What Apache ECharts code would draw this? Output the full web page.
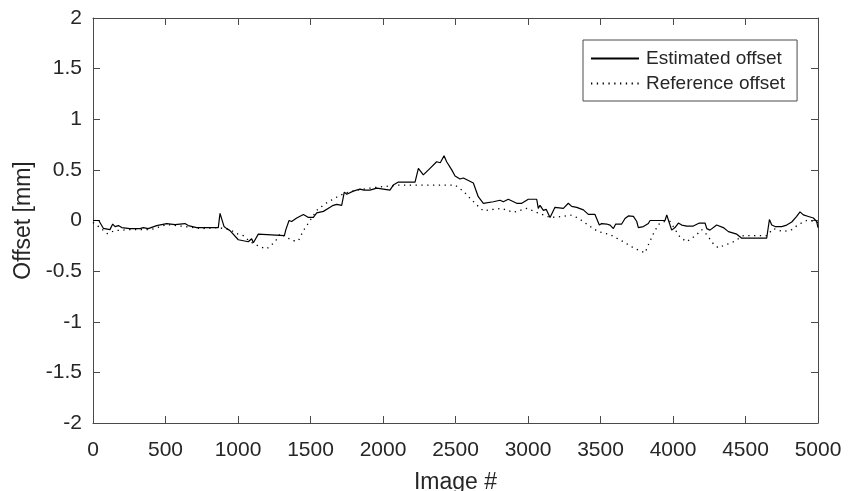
<!DOCTYPE html>
<html>
<head>
<meta charset="utf-8">
<script src="https://cdn.jsdelivr.net/npm/echarts@6/dist/echarts.min.js"></script>
<style>
    html, body { margin: 0; padding: 0; background: #fff; }
    #chart { width: 858px; height: 491px; }
</style>
</head>
<body>
<div id="chart"></div>
<script>
    // estimated offset (solid line), image # and value in mm
    let estX = [0, 40, 71, 117, 136, 152, 175, 198, 255, 324, 347, 381, 439, 508, 566, 634, 657, 715, 864, 876, 888, 904, 922, 945,
        1002, 1037, 1071, 1094, 1106, 1140, 1152, 1320, 1330, 1352, 1370, 1405, 1451, 1463, 1486, 1520, 1543, 1555, 1589, 1635,
        1657, 1681, 1715, 1733, 1750, 1795, 1841, 1870, 1910, 1957, 2002, 2048, 2071, 2106, 2221, 2244, 2278, 2324, 2370, 2395,
        2421, 2439, 2474, 2497, 2531, 2554, 2623, 2657, 2692, 2761, 2807, 2830, 2864, 2922, 2957, 3002, 3060, 3071, 3083, 3106,
        3125, 3152, 3186, 3244, 3278, 3301, 3336, 3382, 3392, 3416, 3462, 3492, 3508, 3543, 3566, 3589, 3605, 3646, 3669, 3692,
        3727, 3750, 3761, 3796, 3830, 3842, 3945, 3957, 3968, 3991, 4014, 4037, 4060, 4095, 4140, 4182, 4221, 4233, 4255, 4301,
        4347, 4382, 4440, 4474, 4646, 4665, 4681, 4704, 4750, 4784, 4819, 4853, 4876, 4899, 4934, 4968, 4991, 5000];
    let estY = [0, 0, -0.077, -0.09, -0.035, -0.06, -0.05, -0.07, -0.08, -0.08, -0.07, -0.08, -0.05, -0.03, -0.04, -0.03, -0.05, -0.07, -0.07, 0.07, 0.065, -0.06, -0.08, -0.1,
        -0.19, -0.2, -0.21, -0.18, -0.22, -0.135, -0.15, -0.15, -0.09, 0.0, -0.01, 0.025, 0.06, 0.075, 0.03, 0.03, 0.075, 0.06, 0.09, 0.13,
        0.15, 0.16, 0.15, 0.28, 0.26, 0.29, 0.31, 0.30, 0.3, 0.32, 0.31, 0.3, 0.35, 0.38, 0.38, 0.515, 0.45, 0.515, 0.58, 0.57,
        0.64, 0.58, 0.5, 0.44, 0.41, 0.42, 0.37, 0.235, 0.17, 0.185, 0.2, 0.185, 0.21, 0.17, 0.17, 0.21, 0.21, 0.12, 0.15, 0.1,
        0.11, 0.03, 0.13, 0.12, 0.17, 0.14, 0.13, 0.105, 0.11, 0.06, 0.06, -0.045, -0.03, -0.035, -0.045, -0.08, -0.035, -0.035, 0.02, 0.045,
        0.04, -0.01, -0.07, -0.06, -0.03, 0, 0, 0.055, 0.005, -0.095, -0.07, -0.025, -0.045, -0.055, -0.055, -0.025, -0.025, -0.08, -0.095, -0.045,
        -0.07, -0.11, -0.135, -0.175, -0.175, 0.01, -0.045, -0.06, -0.06, -0.045, -0.015, 0.04, 0.085, 0.055, 0.04, 0.025, -0.01, -0.07];

    // reference offset (dotted line)
    let refX = [0, 30, 99, 150, 255, 400, 508, 634, 750, 864, 945, 991, 1037, 1083, 1152, 1198, 1256, 1290, 1340, 1380, 1417, 1451,
        1497, 1543, 1600, 1680, 1738, 1818, 1910, 2002, 2117, 2497, 2554, 2600, 2657, 2692, 2761, 2818, 2899, 2991, 3060, 3152,
        3244, 3290, 3336, 3370, 3451, 3485, 3566, 3658, 3727, 3807, 3830, 3865, 3899, 3934, 3980, 4048, 4095, 4163, 4198, 4233,
        4278, 4313, 4359, 4405, 4440, 4485, 4646, 4692, 4761, 4819, 4865, 4922, 4991, 5000];
    let refY = [-0.02, -0.05, -0.13, -0.1, -0.09, -0.09, -0.04, -0.06, -0.08, -0.07, -0.09, -0.13, -0.15, -0.21, -0.26, -0.28, -0.21, -0.13, -0.17, -0.2, -0.2, -0.1,
        0.0, 0.1, 0.165, 0.23, 0.27, 0.3, 0.32, 0.335, 0.35, 0.35, 0.29, 0.22, 0.14, 0.095, 0.11, 0.12, 0.08, 0.12, 0.08, 0.03,
        0.04, 0.055, 0.03, 0.0, -0.08, -0.11, -0.14, -0.21, -0.27, -0.32, -0.24, -0.13, -0.04, -0.01, -0.01, -0.165, -0.21, -0.14, -0.09, -0.14,
        -0.23, -0.27, -0.24, -0.22, -0.19, -0.15, -0.15, -0.08, -0.11, -0.09, -0.04, 0.0, -0.01, -0.03];

    let seriesNames = ['Estimated offset', 'Reference offset'];

    function pairs(xs, ys) {
        return xs.map((x, i) => [x, ys[i]]);
    }

    let font = 'Liberation Sans, Arial, Helvetica, sans-serif';
    let ink = '#262626';
    let frame = {
        axisLine: {show: true, onZero: false, lineStyle: {color: '#4a4a4a', width: 1}},
        axisTick: {show: true, inside: true, length: 7, lineStyle: {color: '#4a4a4a'}},
        splitLine: {show: false}
    };

    let myChart = echarts.init(document.getElementById('chart'), null, {renderer: 'canvas'});
    let option = {
        animation: false,
        backgroundColor: '#fff',
        grid: {left: 93, right: 40, top: 18, bottom: 68, containLabel: false, outerBoundsMode: 'none'},
        legend: {
            data: seriesNames,
            orient: 'vertical',
            left: 583,
            top: 40,
            padding: [9, 12, 8, 7],
            itemGap: 6,
            itemWidth: 48,
            itemHeight: 14,
            backgroundColor: '#fff',
            borderColor: '#4a4a4a',
            borderWidth: 1,
            borderRadius: 0,
            itemStyle: {opacity: 0},
            textStyle: {fontFamily: font, fontSize: 19, color: ink, padding: [0, 0, 0, 2]}
        },
        xAxis: [{
            type: 'value', min: 0, max: 5000, interval: 500,
            name: 'Image #', nameLocation: 'middle', nameGap: 48,
            nameTextStyle: {fontFamily: font, fontSize: 23, color: ink},
            axisLabel: {fontFamily: font, fontSize: 21, color: ink, margin: 17, formatter: v => String(v)},
            ...frame
        }, {
            type: 'value', position: 'top', min: 0, max: 5000, interval: 500,
            axisLabel: {show: false},
            ...frame
        }],
        yAxis: [{
            type: 'value', min: -2, max: 2, interval: 0.5,
            name: 'Offset [mm]', nameLocation: 'middle', nameGap: 51,
            nameTextStyle: {fontFamily: font, fontSize: 23, color: ink},
            axisLabel: {fontFamily: font, fontSize: 21, color: ink, margin: 11, formatter: v => String(v)},
            ...frame
        }, {
            type: 'value', position: 'right', min: -2, max: 2, interval: 0.5,
            axisLabel: {show: false},
            ...frame
        }],
        series: [{
            name: seriesNames[0],
            type: 'line',
            data: pairs(estX, estY),
            symbol: 'none',
            lineStyle: {color: '#000', width: 1.2, type: 'solid'},
            itemStyle: {color: '#000'}
        }, {
            name: seriesNames[1],
            type: 'line',
            data: pairs(refX, refY),
            symbol: 'none',
            lineStyle: {color: '#000', width: 1.3, type: [1.3, 4.5]},
            itemStyle: {color: '#000'}
        }]
    };
    myChart.setOption(option);
</script>
</body>
</html>
